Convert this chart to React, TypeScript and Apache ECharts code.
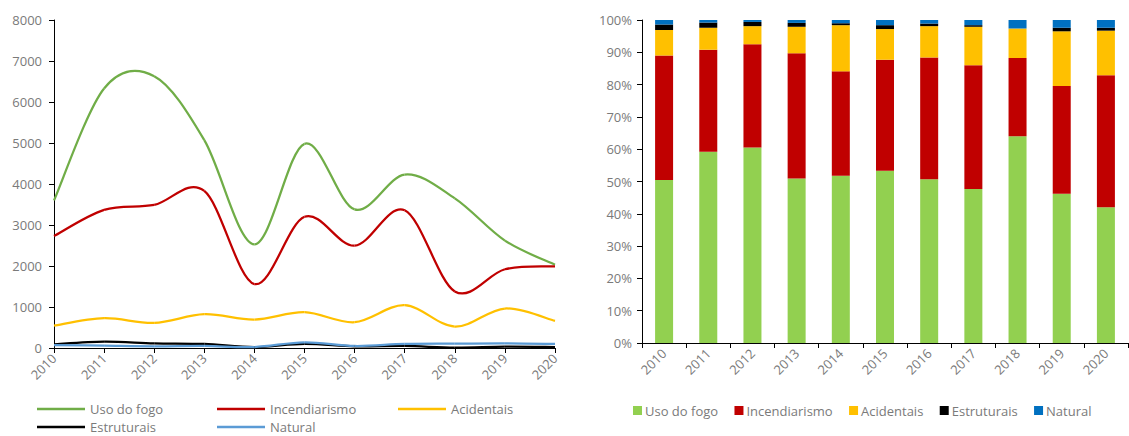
import React, { useEffect, useRef } from "react";
import * as echarts from "echarts";

const years = ["2010", "2011", "2012", "2013", "2014", "2015", "2016", "2017", "2018", "2019", "2020"];
const seriesNames = ["Uso do fogo", "Incendiarismo", "Acidentais", "Estruturais", "Natural"];

// Left chart: number of occurrences
const usoDoFogo = [3600, 6330, 6630, 5070, 2530, 4980, 3380, 4230, 3650, 2620, 2030];
const incendiarismo = [2730, 3370, 3490, 3830, 1560, 3200, 2495, 3360, 1380, 1920, 1990];
const acidentais = [547, 727, 612, 824, 694, 873, 629, 1045, 522, 963, 661];
const estruturais = [90, 155, 114, 98, 24, 98, 41, 49, 10, 33, 24];
const natural = [73, 57, 41, 49, 24, 139, 49, 98, 106, 114, 98];

// Right chart: shares (%)
const usoShare = [50.5, 59.2, 60.5, 50.9, 51.8, 53.3, 50.7, 47.7, 64.0, 46.2, 42.0];
const incShare = [38.5, 31.6, 32.0, 38.8, 32.3, 34.4, 37.7, 38.3, 24.2, 33.4, 40.9];
const acidShare = [7.9, 6.8, 5.6, 8.2, 14.3, 9.5, 9.7, 11.9, 9.2, 16.9, 13.8];
const estShare = [1.7, 1.6, 1.3, 1.2, 0.6, 1.2, 0.8, 0.5, 0.0, 1.1, 0.9];
const natShare = [1.4, 0.8, 0.6, 0.9, 1.0, 1.6, 1.1, 1.6, 2.6, 2.4, 2.4];

const lineColors = ["#70AD47", "#C00000", "#FFC000", "#000000", "#5B9BD5"];
const barColors = ["#92D050", "#C00000", "#FFC000", "#000000", "#0070C0"];

const FONT = "Open Sans";
const TXT = "#7a7a7a";

export default function App() {
  const ref = useRef<HTMLDivElement>(null);
  useEffect(() => {
    const chart = echarts.init(ref.current!, undefined, { renderer: "svg" });
    const lineData = [usoDoFogo, incendiarismo, acidentais, estruturais, natural];
    const shareData = [usoShare, incShare, acidShare, estShare, natShare];
    const n = years.length;

    const lineLegendPos = [
      { left: 37, top: 402 },
      { left: 217, top: 402 },
      { left: 398, top: 402 },
      { left: 37, top: 420 },
      { left: 217, top: 420 },
    ];

    const legends: any[] = seriesNames.map((nm, i) => ({
      data: [{ name: nm, icon: "rect", itemStyle: { color: lineColors[i] } }],
      left: lineLegendPos[i].left,
      top: lineLegendPos[i].top,
      itemWidth: 48,
      itemHeight: 2.5,
      padding: 0,
      textStyle: { fontFamily: FONT, fontSize: 13, color: TXT, lineHeight: 14 },
      selectedMode: false,
    }));
    legends.push({
      data: seriesNames.map((nm, i) => ({ name: nm + " ", icon: "rect", itemStyle: { color: barColors[i] } })),
      left: 633,
      top: 404,
      itemWidth: 9,
      itemHeight: 9,
      itemGap: 13,
      padding: 0,
      textStyle: { fontFamily: FONT, fontSize: 13, color: TXT, padding: [0, 0, 0, -2] },
      selectedMode: false,
    });

    const axisLabel = { fontFamily: FONT, fontSize: 13, color: TXT };

    const makeRender = (k: number) => (params: any, api: any) => {
      const i = api.value(0);
      if (i >= n - 1) return null;
      const vals = lineData[k];
      const p = (j: number) => {
        const jj = Math.max(0, Math.min(n - 1, j));
        return api.coord([jj, vals[jj]]);
      };
      const p0 = p(i - 1), p1 = p(i), p2 = p(i + 1), p3 = p(i + 2);
      return {
        type: "bezierCurve",
        shape: {
          x1: p1[0],
          y1: p1[1],
          x2: p2[0],
          y2: p2[1],
          cpx1: p1[0] + (p2[0] - p0[0]) / 6,
          cpy1: p1[1] + (p2[1] - p0[1]) / 6,
          cpx2: p2[0] - (p3[0] - p1[0]) / 6,
          cpy2: p2[1] - (p3[1] - p1[1]) / 6,
        },
        style: { stroke: lineColors[k], lineWidth: 2.25, fill: null },
        silent: true,
      };
    };

    chart.setOption({
      animation: false,
      textStyle: { fontFamily: FONT },
      legend: legends,
      grid: [
        { left: 54, top: 20, width: 501, height: 328 },
        { left: 642, top: 20, width: 486, height: 323 },
      ],
      xAxis: [
        {
          gridIndex: 0,
          type: "category",
          data: years,
          boundaryGap: false,
          axisLine: { lineStyle: { color: "#000", width: 1 } },
          axisTick: { show: true, length: 5, lineStyle: { color: "#000" } },
          axisLabel: { ...axisLabel, rotate: 45, margin: 8, interval: 0 },
        },
        {
          gridIndex: 1,
          type: "category",
          data: years,
          boundaryGap: true,
          axisLine: { lineStyle: { color: "#000", width: 1 } },
          axisTick: { show: true, length: 5, lineStyle: { color: "#000" } },
          axisLabel: { ...axisLabel, rotate: 45, margin: 8, interval: 0 },
        },
      ],
      yAxis: [
        {
          gridIndex: 0,
          type: "value",
          min: 0,
          max: 8000,
          interval: 1000,
          axisLine: { show: true, lineStyle: { color: "#000", width: 1 } },
          axisTick: { show: true, length: 5, lineStyle: { color: "#000" } },
          splitLine: { show: false },
          axisLabel: { ...axisLabel, margin: 12, formatter: (v: number) => String(v) },
        },
        {
          gridIndex: 1,
          type: "value",
          min: 0,
          max: 100,
          interval: 10,
          axisLine: { show: true, lineStyle: { color: "#000", width: 1 } },
          axisTick: { show: true, length: 5, lineStyle: { color: "#000" } },
          splitLine: { show: false },
          axisLabel: { ...axisLabel, margin: 10, formatter: "{value}%" },
        },
      ],
      series: [
        ...seriesNames.map((nm, k) => ({
          name: nm,
          type: "custom",
          xAxisIndex: 0,
          yAxisIndex: 0,
          coordinateSystem: "cartesian2d",
          data: lineData[k].map((v, i) => [i, v]),
          encode: { x: 0, y: 1 },
          color: lineColors[k],
          renderItem: makeRender(k),
          z: 2 + k,
        })),
        ...seriesNames.map((nm, i) => ({
          name: nm + " ",
          type: "bar",
          xAxisIndex: 1,
          yAxisIndex: 1,
          stack: "total",
          data: shareData[i],
          barWidth: 18,
          color: barColors[i],
          itemStyle: { color: barColors[i] },
        })),
      ],
    });
    return () => chart.dispose();
  }, []);
  return (
    <div
      ref={ref}
      style={{ position: "absolute", left: 0, top: 0, width: 1129, height: 436 }}
    />
  );
}
